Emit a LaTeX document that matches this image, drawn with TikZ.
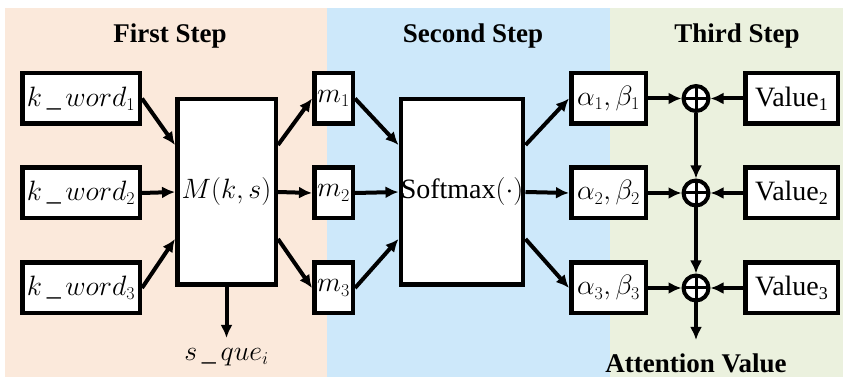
\RequirePackage{fix-cm}
\documentclass[tikz,border=0pt]{standalone}
\usepackage{fontspec}
\setmainfont{Liberation Serif}
\usetikzlibrary{arrows.meta}
\definecolor{peach}{RGB}{251,233,219}
\definecolor{skyb}{RGB}{205,232,250}
\definecolor{sage}{RGB}{235,241,222}
\DeclareMathSizes{27}{27}{17}{13}
\DeclareMathSizes{28}{28}{18}{13}
\newcommand\subsl[1]{\raisebox{-0.15em}{\fontsize{18}{18}\selectfont #1}}
\tikzset{
  box/.style={draw, line width=4.5pt, fill=white, inner sep=0pt, minimum height=50.5pt, font=\fontsize{28}{30}\selectfont},
  bigbox/.style={draw, line width=4.5pt, fill=white, inner sep=0pt, minimum height=185.5pt, font=\fontsize{28}{30}\selectfont},
  summer/.style={circle, draw, line width=4pt, fill=white, minimum size=25pt, inner sep=0pt,
    path picture={\draw[line width=3pt] (path picture bounding box.north) -- (path picture bounding box.south)
      (path picture bounding box.west) -- (path picture bounding box.east);}},
  arr/.style={line width=4pt, -{Latex[length=13pt,width=12pt]}},
  title/.style={font=\fontsize{27}{30}\selectfont\bfseries},
}
\begin{document}
\begin{tikzpicture}[x=1pt,y=-1pt]
\useasboundingbox (0,0) rectangle (847,379);
\fill[peach] (5,8) rectangle (327,377);
\fill[skyb] (327,8) rectangle (610,377);
\fill[sage] (610,8) rectangle (843,377);
\node[title] (t1) at (170,36) {First Step};
\node[title] (t2) at (473,36) {Second Step};
\node[title] (t3) at (737,36) {Third Step};
\foreach \i/\y in {1/98.5,2/193,3/288}{
  \node[box, minimum width=117.5pt] (k\i) at (81,\y) {$k\,\_\,word_{\i}$};
  \node[box, minimum width=38.5pt] (m\i) at (333.5,\y) {$m_{\i}$};
  \node[box, minimum width=74.5pt] (a\i) at (608.5,\y) {$\alpha_{\i},\beta_{\i}$};
  \node[summer] (c\i) at (696,\y) {};
  \node[box, minimum width=92.5pt] (v\i) at (791.5,\y) {Value\subsl{\i}};
}
\node[bigbox, minimum width=98.5pt] (M) at (226.5,192) {$M(k,s)$};
\node[bigbox, minimum width=117.5pt] (S) at (462,192) {Softmax$(\cdot)$};
\coordinate (sq) at (226.5,338);
\node[font=\fontsize{28}{30}\selectfont] (sql) at (226.5,357) {$s\,\_\,que_i$};
\coordinate (av) at (696,340);
\node[title] (avl) at (696,363) {Attention Value};
% arrows
\draw[arr] (k1.east) -- ([yshift=47pt]M.west);
\draw[arr] (k2.east) -- (M.west);
\draw[arr] (k3.east) -- ([yshift=-47pt]M.west);
\draw[arr] ([yshift=47pt]M.east) -- (m1.west);
\draw[arr] (M.east) -- (m2.west);
\draw[arr] ([yshift=-47pt]M.east) -- (m3.west);
\draw[arr] (M.south) -- (sq);
\draw[arr] (m1.east) -- ([yshift=47pt]S.west);
\draw[arr] (m2.east) -- (S.west);
\draw[arr] (m3.east) -- ([yshift=-47pt]S.west);
\draw[arr] ([yshift=47pt]S.east) -- (a1.west);
\draw[arr] (S.east) -- (a2.west);
\draw[arr] ([yshift=-47pt]S.east) -- (a3.west);
\foreach \i in {1,2,3}{
  \draw[arr] (a\i.east) -- (c\i.west);
  \draw[arr] (v\i.west) -- (c\i.east);
}
\draw[arr] (c1.south) -- (c2.north);
\draw[arr] (c2.south) -- (c3.north);
\draw[arr] (c3.south) -- (av);
\end{tikzpicture}
\end{document}
